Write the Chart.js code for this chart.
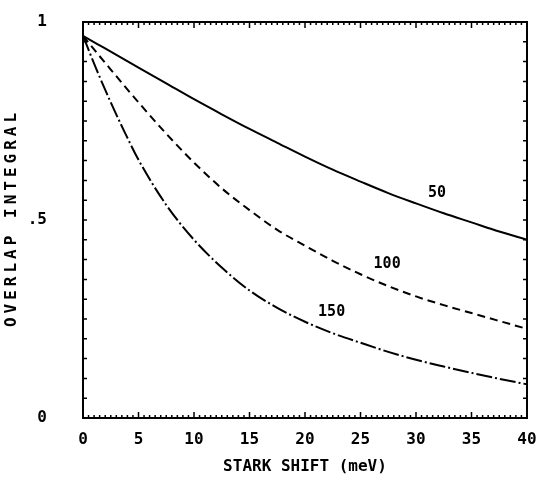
<!DOCTYPE html>
<html>
<head>
<meta charset="utf-8">
<script src="https://cdn.jsdelivr.net/npm/chart.js@4"></script>
<style>
  html, body { margin: 0; padding: 0; background: #fff; }
  #box { width: 542px; height: 482px; position: relative; }
</style>
</head>
<body>
<div id="box"><canvas id="overlap"></canvas></div>
<script>
// stark shift (meV)
const shift = [0, 1.25, 2.5, 3.75, 5, 7.5, 10, 12.5, 15, 17.5, 20, 22.5, 25, 27.5, 30, 32.5, 35, 37.5, 40];
// overlap integral for the three curves
const overlap50  = [0.965, 0.945, 0.925, 0.905, 0.885, 0.845, 0.805, 0.767, 0.73, 0.695, 0.66, 0.627, 0.597, 0.568, 0.542, 0.517, 0.494, 0.471, 0.45];
const overlap100 = [0.965, 0.922, 0.88, 0.838, 0.797, 0.718, 0.645, 0.58, 0.525, 0.475, 0.435, 0.397, 0.363, 0.333, 0.307, 0.285, 0.265, 0.245, 0.225];
const overlap150 = [0.965, 0.878, 0.797, 0.722, 0.652, 0.538, 0.45, 0.38, 0.322, 0.278, 0.243, 0.214, 0.19, 0.167, 0.147, 0.13, 0.114, 0.099, 0.085];
const curveNames = ["50", "100", "150"];
// where the curve names sit (data units)
const nameX = [31.9, 27.4, 22.4];
const nameY = [0.568, 0.389, 0.268];
const yTitle = "OVERLAP INTEGRAL";

const mono = "'DejaVu Sans Mono', monospace";

function pts(ys) {
  return shift.map((x, i) => ({ x: x, y: ys[i] }));
}

// fixed box sizes, and no extra label overhang padding
function fixBox(w, h) {
  return function (s) {
    if (w != null) s.width = w;
    if (h != null) s.height = h;
    s.paddingLeft = s.paddingRight = s.paddingTop = s.paddingBottom = 0;
  };
}

// inward tick marks on all four sides, curve names, spaced-out y title
const inwardTicks = {
  id: "inwardTicks",
  afterDraw(chart) {
    const ctx = chart.ctx;
    const a = chart.chartArea;
    ctx.save();
    ctx.strokeStyle = "#000";
    ctx.lineWidth = 1.5;
    ctx.beginPath();
    for (const id of ["x", "x2"]) {
      const s = chart.scales[id];
      s.ticks.forEach(t => {
        const p = s.getPixelForValue(t.value);
        const major = Math.abs(t.value / 5 - Math.round(t.value / 5)) < 1e-6;
        const len = major ? 6 : 3;
        if (id === "x") { ctx.moveTo(p, a.bottom); ctx.lineTo(p, a.bottom - len); }
        else { ctx.moveTo(p, a.top); ctx.lineTo(p, a.top + len); }
      });
    }
    for (const id of ["y", "y2"]) {
      const s = chart.scales[id];
      s.ticks.forEach(t => {
        const p = s.getPixelForValue(t.value);
        if (id === "y") { ctx.moveTo(a.left, p); ctx.lineTo(a.left + 4, p); }
        else { ctx.moveTo(a.right, p); ctx.lineTo(a.right - 4, p); }
      });
    }
    ctx.stroke();

    ctx.fillStyle = "#000";
    ctx.font = "bold 15px " + mono;
    ctx.textAlign = "center";
    ctx.textBaseline = "middle";
    curveNames.forEach((n, i) => {
      ctx.fillText(n, chart.scales.x.getPixelForValue(nameX[i]), chart.scales.y.getPixelForValue(nameY[i]));
    });

    ctx.translate(12, (a.top + a.bottom) / 2);
    ctx.rotate(-Math.PI / 2);
    ctx.font = "bold 16px " + mono;
    ctx.letterSpacing = "4px";
    ctx.fillText(yTitle, 2, 0);
    ctx.restore();
  }
};

const line = { borderColor: "#000", borderWidth: 2, pointRadius: 0, fill: false, cubicInterpolationMode: "monotone" };

new Chart(document.getElementById("overlap"), {
  type: "line",
  data: {
    datasets: [
      Object.assign({ label: "50", data: pts(overlap50) }, line),
      Object.assign({ label: "100", data: pts(overlap100), borderDash: [8, 5] }, line),
      Object.assign({ label: "150", data: pts(overlap150), borderDash: [16, 3, 2, 3] }, line)
    ]
  },
  options: {
    responsive: true,
    maintainAspectRatio: false,
    animation: false,
    layout: { padding: 0, autoPadding: false },
    plugins: { legend: { display: false }, tooltip: { enabled: false } },
    scales: {
      x: {
        type: "linear", position: "bottom", min: 0, max: 40,
        afterFit: fixBox(null, 64),
        ticks: {
          stepSize: 0.5, autoSkip: false, maxRotation: 0, padding: 12, color: "#000",
          font: { family: mono, size: 16, weight: "bold" },
          callback: v => (Math.abs(v / 5 - Math.round(v / 5)) < 1e-6 ? String(Math.round(v)) : "")
        },
        grid: { drawOnChartArea: false, drawTicks: false },
        border: { display: true, color: "#000", width: 2 },
        title: {
          display: true, text: "STARK SHIFT (meV)", color: "#000",
          font: { family: mono, size: 16, weight: "bold" }, padding: { top: 0, bottom: 6 }
        }
      },
      x2: {
        type: "linear", position: "top", min: 0, max: 40,
        afterFit: fixBox(null, 22),
        ticks: { display: false, stepSize: 0.5, autoSkip: false },
        grid: { drawOnChartArea: false, drawTicks: false },
        border: { display: true, color: "#000", width: 2 }
      },
      y: {
        type: "linear", position: "left", min: 0, max: 1,
        afterFit: fixBox(83, null),
        ticks: {
          stepSize: 0.05, autoSkip: false, padding: 36, color: "#000",
          font: { family: mono, size: 16, weight: "bold" },
          callback: v => (Math.abs(v) < 1e-6 ? "0" : Math.abs(v - 0.5) < 1e-6 ? ".5" : Math.abs(v - 1) < 1e-6 ? "1" : "")
        },
        grid: { drawOnChartArea: false, drawTicks: false },
        border: { display: true, color: "#000", width: 2 }
      },
      y2: {
        type: "linear", position: "right", min: 0, max: 1,
        afterFit: fixBox(15, null),
        ticks: { display: false, stepSize: 0.05, autoSkip: false },
        grid: { drawOnChartArea: false, drawTicks: false },
        border: { display: true, color: "#000", width: 2 }
      }
    }
  },
  plugins: [inwardTicks]
});
</script>
</body>
</html>
